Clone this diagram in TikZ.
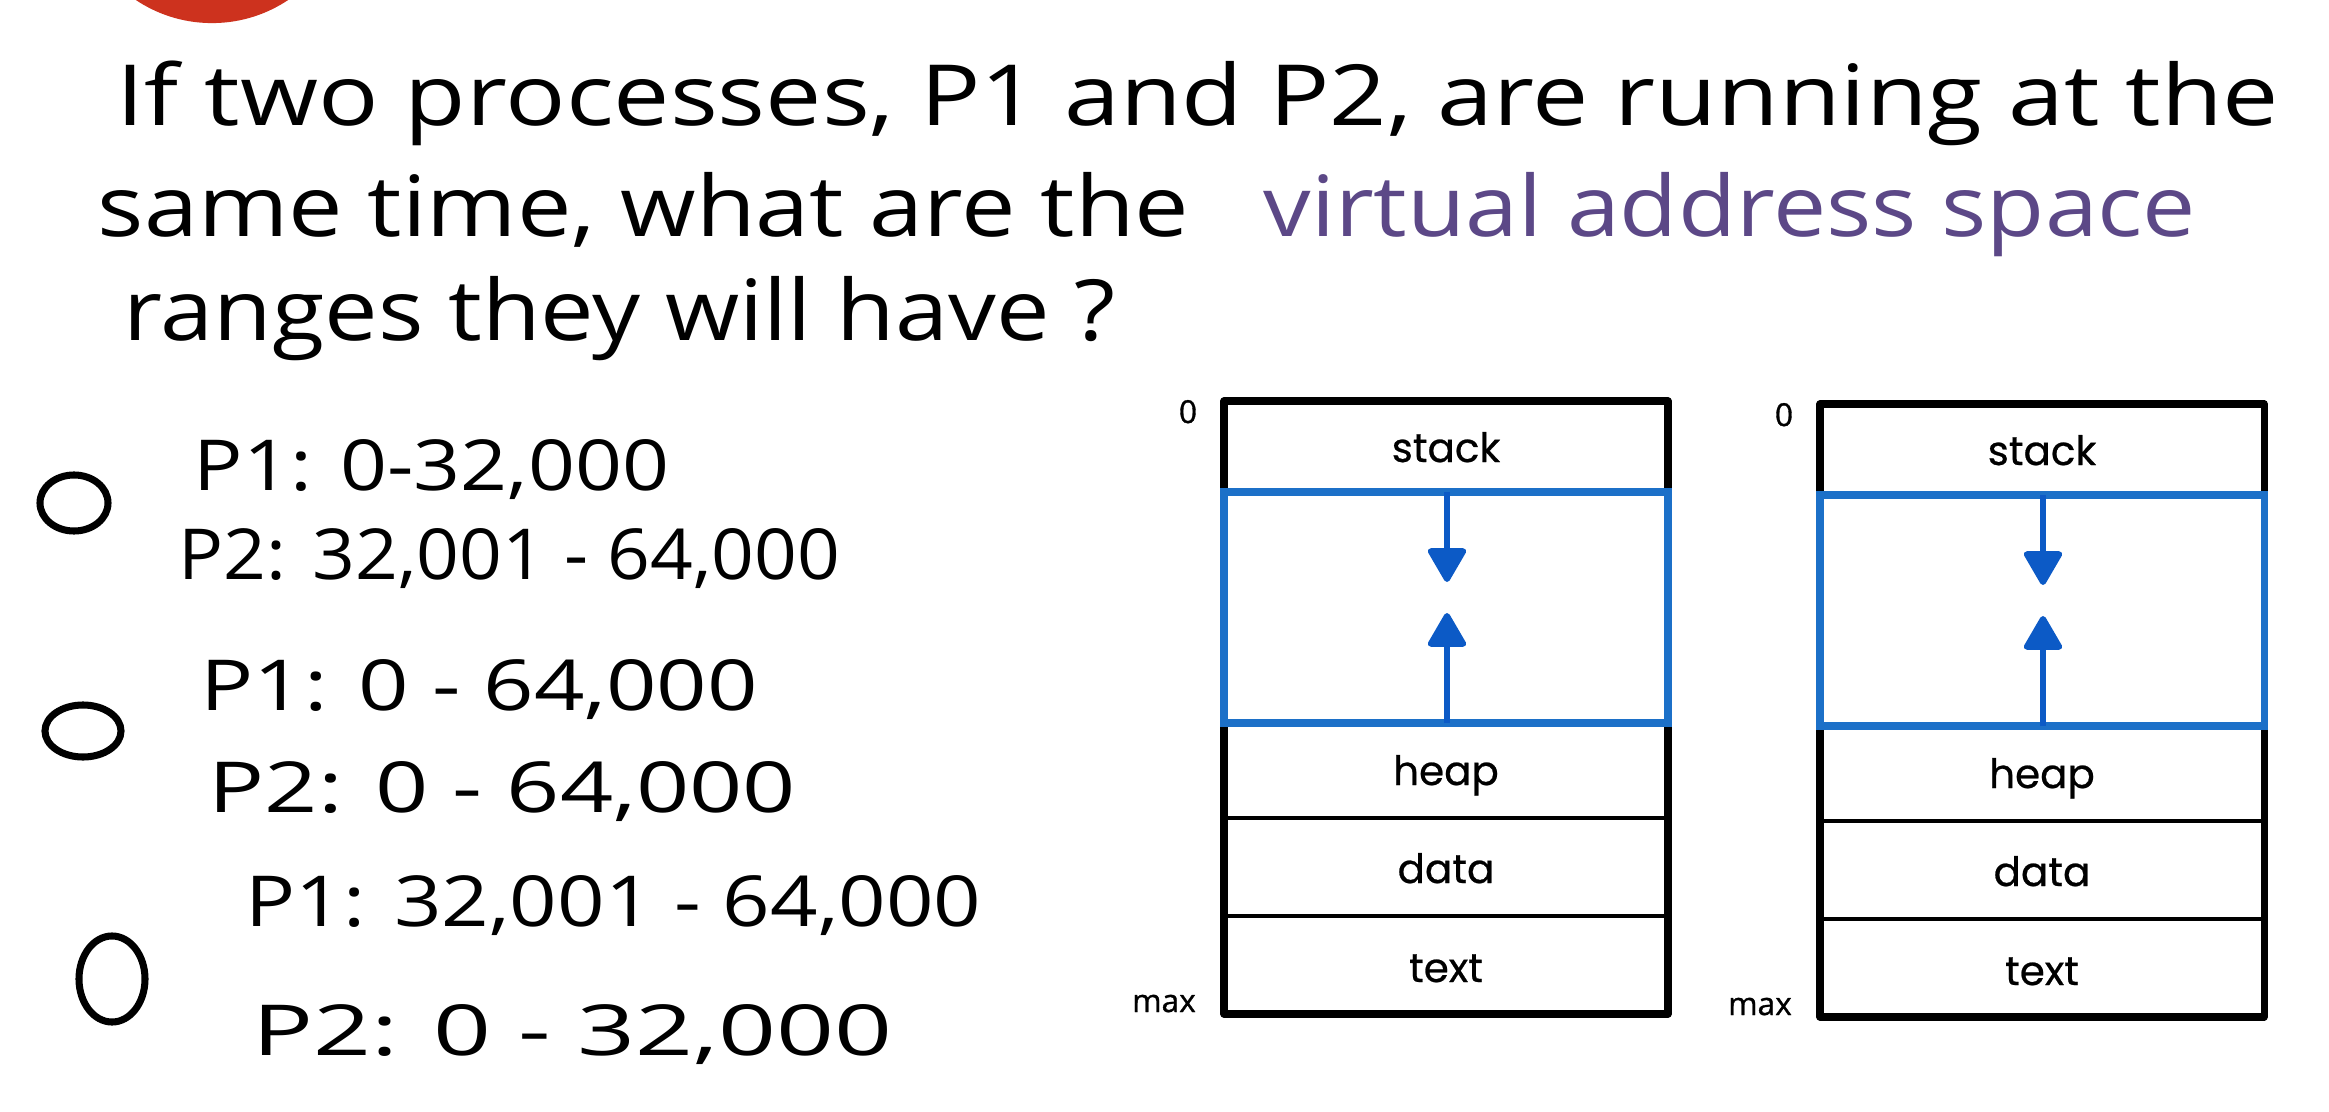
\documentclass[tikz,border=0pt]{standalone}
\usepackage{fontspec}
\usepackage{graphicx}
\usetikzlibrary{arrows.meta}
\newfontfamily\handfont{Open Sans}
\newfontfamily\diagfont[FakeBold=0.6]{Poppins}
\newfontfamily\labfont[FakeBold=1]{Open Sans}
\definecolor{boxblue}{RGB}{28,112,200}
\definecolor{arrowblue}{RGB}{12,90,198}
\definecolor{purpletext}{RGB}{92,72,135}
\definecolor{logored}{RGB}{205,50,30}
\newcommand{\handline}[2]{\resizebox{#1}{\height}{#2}}
\tikzset{
  hand/.style={anchor=base west, inner sep=0pt, font=\handfont\fontsize{24}{28}\selectfont},
  opt/.style={anchor=base west, inner sep=0pt, font=\handfont\fontsize{20}{24}\selectfont},
  seglabel/.style={anchor=base, inner sep=0pt, font=\diagfont\fontsize{11.5}{14}\selectfont},
  addrlabel/.style={anchor=base, inner sep=0pt, font=\labfont\fontsize{9}{11}\selectfont},
  outerline/.style={line width=2pt, line join=round, line cap=round, black},
  innerline/.style={line width=1pt, black},
  bluebox/.style={line width=2pt, draw=boxblue},
  growarrow/.style={line width=1.7pt, draw=arrowblue, -{Triangle[width=11.7pt,length=10.5pt,round]}},
  choice/.style={line width=2pt, draw=black}
}
\begin{document}
\begin{tikzpicture}[x=0.01cm, y=-0.01cm]
\useasboundingbox (0,0) rectangle (2329,1112);
\fill[white] (0,0) rectangle (2329,1112);
\begin{scope}
\clip (0,0) rectangle (2329,1112);
\fill[logored] (212,-114) circle [radius=1.37cm];
\end{scope}

% question text
\node (q1) [hand] at (116,126) {\handline{21.61cm}{If two processes, P1 and P2, are running at the}};
\node (q2) [hand] at (97,236) {\handline{10.91cm}{same time, what are the}};
\node (q2b) [hand, text=purpletext] at (1263,236) {\handline{9.32cm}{virtual address space}};
\node (q3) [hand] at (123,340) {\handline{9.91cm}{ranges they will have ?}};

% choices
\draw[choice] (74,503) ellipse [x radius=0.34cm, y radius=0.28cm];
\draw[choice] (83,731) ellipse [x radius=0.38cm, y radius=0.26cm];
\draw[choice] (112,979) ellipse [x radius=0.33cm, y radius=0.43cm];
\node (o1a) [opt] at (193,490) {\handline{4.75cm}{P1: 0-32,000}};
\node (o1b) [opt] at (178,579) {\handline{6.61cm}{P2: 32,001 - 64,000}};
\node (o2a) [opt] at (200,710) {\handline{5.57cm}{P1: 0 - 64,000}};
\node (o2b) [opt] at (208,812) {\handline{5.87cm}{P2: 0 - 64,000}};
\node (o3a) [opt] at (245,926) {\handline{7.35cm}{P1: 32,001 - 64,000}};
\node (o3b) [opt] at (252,1055) {\handline{6.39cm}{P2: 0 - 32,000}};

% memory layouts
\foreach \s/\dx/\dy in {A/0/0, B/596/3} {
\begin{scope}[shift={(\dx,\dy)}]
  \draw[innerline] (1224,818) -- (1668,818);
  \draw[innerline] (1224,916) -- (1668,916);
  \draw[outerline] (1224,492) -- (1224,401) -- (1668,401) -- (1668,492);
  \draw[outerline] (1224,723) -- (1224,1014) -- (1668,1014) -- (1668,723);
  \draw[bluebox] (1224,492) rectangle (1668,723);
  \coordinate (gaptop\s) at (1447,492);
  \coordinate (gapbot\s) at (1447,723);
  \coordinate (downtip\s) at (1447,582);
  \coordinate (uptip\s) at (1447,613);
  \draw[growarrow] (gaptop\s) -- (downtip\s);
  \draw[growarrow] (gapbot\s) -- (uptip\s);
  \node (stack\s) [seglabel] at (1446,462) {stack};
  \node (heap\s) [seglabel] at (1446,785) {heap};
  \node (data\s) [seglabel] at (1446,883) {data};
  \node (text\s) [seglabel] at (1446,982) {text};
  \node (zero\s) [addrlabel] at (1188,423) {0};
  \node (max\s) [addrlabel] at (1164,1012) {max};
\end{scope}
}
\end{tikzpicture}
\end{document}
